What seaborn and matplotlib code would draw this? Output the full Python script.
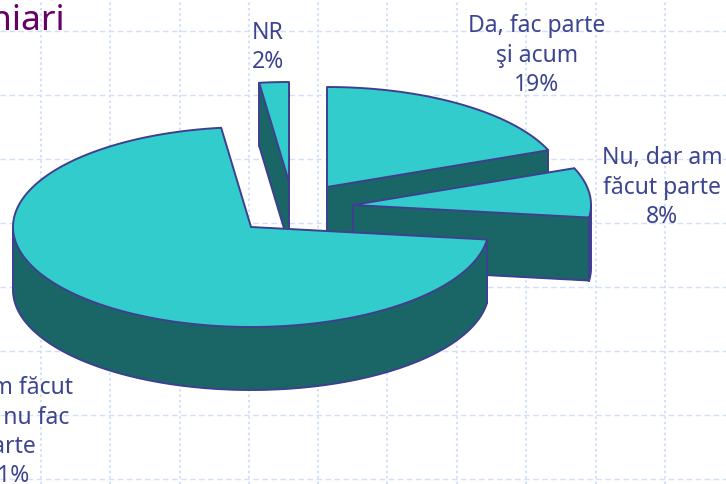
import numpy as np
import matplotlib
matplotlib.use("Agg")
import matplotlib.pyplot as plt
from matplotlib.patches import Polygon
import seaborn as sns

# Data
categories = ["Da, fac parte\nşi acum", "Nu, dar am\nfăcut parte", "Nu am făcut\nşi azi nu fac\nparte", "NR"]
shares = [19, 8, 71, 2]

# Style / geometry
W, H = 726, 484
RX, RY, DEPTH = 238, 100, 63
apexes = [(327, 187), (353, 205), (251, 227), (289, 182)]
draw_order = [3, 0, 1, 2]
label_pos = [(537, 26), (662, 158), (7, 388), (268, 33)]
TOP, SIDE, EDGE = "#33CCCC", "#1A6666", "#3F3F8F"
TEXT, TITLE = "#3D4590", "#660066"
GRID = "#D2DDFF"
grid_x = [41, 110, 179.5, 249, 318, 387, 457, 526, 596, 665]
grid_y = [31, 95, 159, 223, 287, 351, 415, 479]
LINE_H = 29.5

sns.set_theme(style="white")
plt.rcParams["font.family"] = ["Noto Sans", "DejaVu Sans"]

fig = plt.figure(figsize=(W / 100, H / 100), dpi=100)
ax = fig.add_axes([0, 0, 1, 1])
ax.set_xlim(0, W)
ax.set_ylim(H, 0)
ax.set_xticks(grid_x)
ax.set_yticks(grid_y)
ax.tick_params(length=0, labelbottom=False, labelleft=False)
ax.xaxis.grid(True, color=GRID, lw=1.4, ls=(0, (1.2, 1.6)))
ax.yaxis.grid(True, color=GRID, lw=1.0, ls=(0, (4, 2.5)))
ax.set_axisbelow(True)
for s in ax.spines.values():
    s.set_visible(False)


def arc(cx, cy, a0, a1, dy=0):
    t = np.radians(np.linspace(a0, a1, 180))
    return np.column_stack([cx + RX * np.sin(t), cy - RY * np.cos(t) + dy])


z = 3


def stroke(xs, ys):
    ax.plot(xs, ys, color=EDGE, lw=1.4, solid_capstyle="round", solid_joinstyle="round", zorder=z + 0.5)


edges = np.cumsum([0] + shares) / sum(shares) * 360
for i in draw_order:
    z += 1
    cx, cy = apexes[i]
    a0, a1 = edges[i], edges[i + 1]
    top_arc = arc(cx, cy, a0, a1)
    fill = dict(facecolor=SIDE, edgecolor=SIDE, lw=0.5, zorder=z)
    for p in (top_arc[0], top_arc[-1]):
        quad = [(cx, cy), tuple(p), (p[0], p[1] + DEPTH), (cx, cy + DEPTH)]
        ax.add_patch(Polygon(quad, closed=True, **fill))
    if 180 < a0 < 360 or 0 < a1 < 180:
        p = top_arc[0] if 180 < a0 < 360 else top_arc[-1]
        stroke([cx, cx], [cy, cy + DEPTH])
        stroke([p[0], p[0]], [p[1], p[1] + DEPTH])
        stroke([cx, p[0]], [cy + DEPTH, p[1] + DEPTH])
    f0, f1 = max(a0, 90), min(a1, 270)
    if f0 < f1:
        upper = arc(cx, cy, f0, f1)
        lower = arc(cx, cy, f0, f1, DEPTH)
        ax.add_patch(Polygon(np.vstack([upper, lower[::-1]]), closed=True, **fill))
        stroke(lower[:, 0], lower[:, 1])
        for q in (upper[0], upper[-1]):
            stroke([q[0], q[0]], [q[1], q[1] + DEPTH])
    z += 1
    ax.add_patch(Polygon(np.vstack([[(cx, cy)], top_arc]), closed=True, facecolor=TOP,
                         edgecolor=EDGE, lw=1.4, joinstyle="round", zorder=z))

for label, share, (x, y) in zip(categories, shares, label_pos):
    lines = label.split("\n") + [f"{share}%"]
    for k, line in enumerate(lines):
        ax.text(x, y + k * LINE_H, line, ha="center", va="center", fontsize=16.5, color=TEXT, zorder=30)

ax.text(65, 30, "hiari", ha="right", va="baseline", fontsize=25.5, color=TITLE, zorder=30)

fig.savefig("out.png", dpi=100, facecolor="white")
